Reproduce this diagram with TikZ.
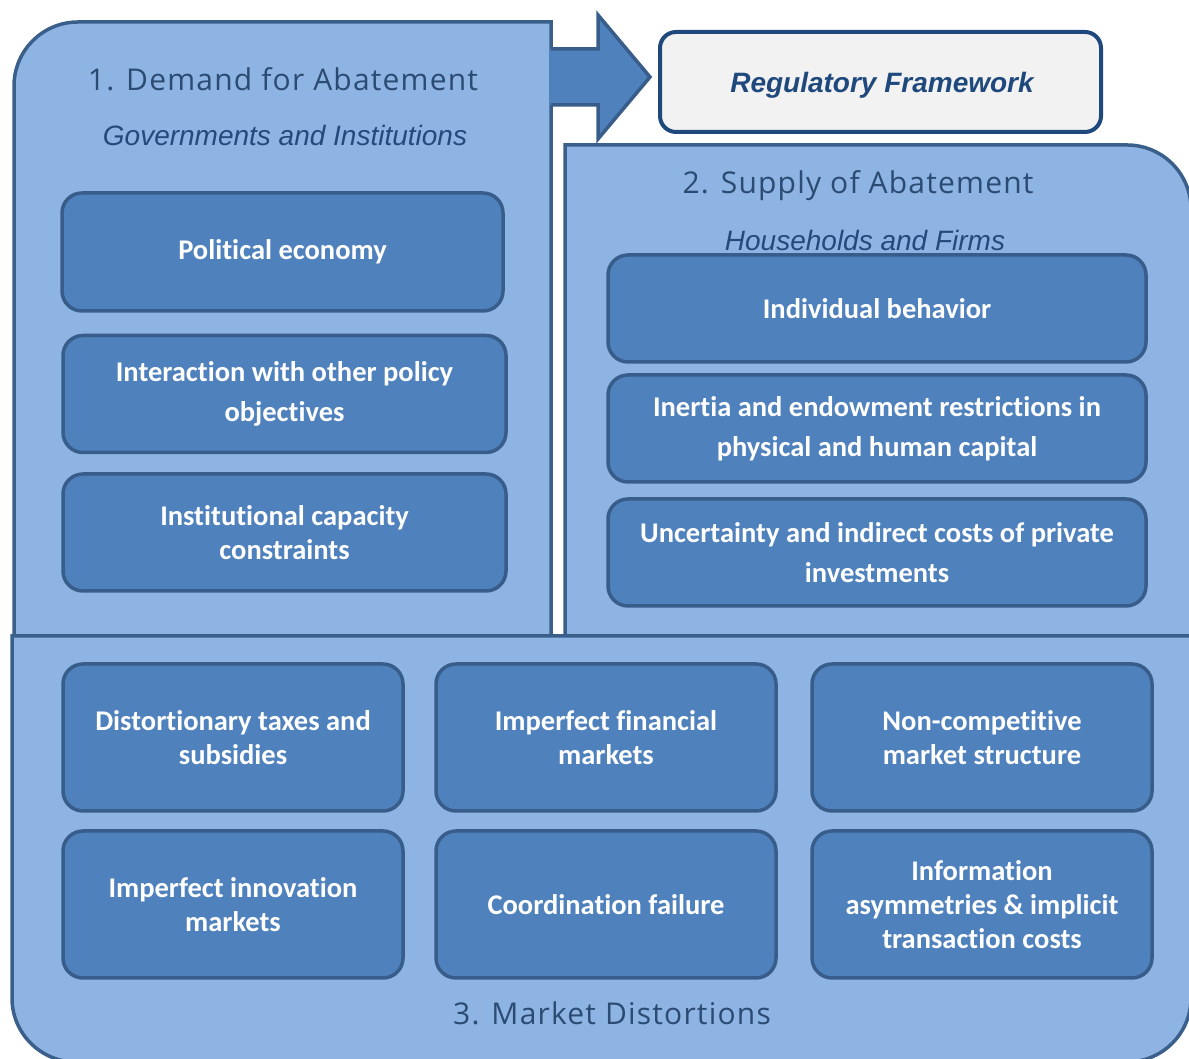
\documentclass[tikz,border=0pt]{standalone}
\usepackage{fontspec}
\setmainfont{Carlito}[Ligatures=NoCommon]
\newfontfamily\headfont{Open Sans}[LetterSpace=4]
\newfontfamily\subfont{Liberation Sans}
\definecolor{panelfill}{HTML}{8EB4E3}
\definecolor{panelline}{HTML}{3A5F8B}
\definecolor{boxfill}{HTML}{4F81BD}
\definecolor{boxline}{HTML}{385D8A}
\definecolor{headtext}{HTML}{2B4B73}
\definecolor{subtext}{HTML}{24497A}
\definecolor{regline}{HTML}{1F497D}
\definecolor{regfill}{HTML}{F2F2F2}
\begin{document}
\begin{tikzpicture}[x=1pt,y=1pt,
  panel/.style={fill=panelfill,draw=panelline,line width=3.5pt,line join=miter},
  item/.style={draw=boxline,fill=boxfill,line width=3.5pt,rounded corners=20pt,
    text=white,align=center,inner sep=0pt,font=\bfseries\fontsize{28.5}{34}\selectfont},
  wide/.style={font=\bfseries\fontsize{28.5}{40}\selectfont},
  heading/.style={text=headtext,font=\headfont\fontsize{30}{34}\selectfont,inner sep=0pt},
  subheading/.style={text=subtext,font=\subfont\itshape\fontsize{28}{32}\selectfont,inner sep=0pt},
]
\useasboundingbox (0,0) rectangle (1189,1059);

% panel 1: demand
\draw[panel] (14,359) -- (14,973) arc[start angle=180,end angle=90,radius=64]
  -- (551,1037) -- (551,359) -- cycle;
% panel 2: supply
\draw[panel] (565,359) -- (565,914) -- (1127,914) arc[start angle=90,end angle=0,radius=64]
  -- (1191,359) -- cycle;
% panel 3: market distortions
\draw[panel] (12,423) -- (1191,423) -- (1191,61) arc[start angle=0,end angle=-90,radius=64]
  -- (76,-3) arc[start angle=270,end angle=180,radius=64] -- cycle;

% block arrow towards the regulatory framework
\fill[boxfill] (549,1010) -- (598,1010) -- (598,1044) -- (650,982) -- (598,920) -- (598,954) -- (549,954) -- cycle;
\draw[boxline,line width=3.5pt,line join=miter] (551,1010) -- (598,1010) -- (598,1044) -- (650,982) -- (598,920) -- (598,954) -- (551,954);

\node[draw=regline,fill=regfill,line width=4pt,rounded corners=16pt,
  minimum width=441pt,minimum height=100pt,inner sep=0pt] (reg) at (880.5,977) {};
\node[text=regline,inner sep=0pt,
  font=\subfont\bfseries\itshape\fontsize{28}{32}\selectfont] (regtext) at (882,974) {Regulatory Framework};

% headings
\node[heading] (h1) at (283,980) {1. Demand for Abatement};
\node[subheading] (s1) at (285,923) {Governments and Institutions};
\node[heading] (h2) at (858,873) {2. Supply of Abatement};
\node[subheading] (s2) at (865,818) {Households and Firms};
\node[heading] (h3) at (612,46) {3. Market Distortions};

% demand items
\node[item,minimum width=441pt,minimum height=118pt] (pe) at (282.5,807) {Political economy};
\node[item,wide,minimum width=443pt,minimum height=117pt] (io) at (284.5,665) {Interaction with other policy\\objectives};
\node[item,minimum width=443pt,minimum height=117pt] (ic) at (284.5,526.5) {Institutional capacity\\constraints};

% supply items
\node[item,minimum width=538pt,minimum height=107pt] (ib) at (877,750.5) {Individual behavior};
\node[item,wide,minimum width=538pt,minimum height=107pt] (ie) at (877,630.5) {Inertia and endowment restrictions in\\physical and human capital};
\node[item,wide,minimum width=538pt,minimum height=107pt] (ui) at (877,506.5) {Uncertainty and indirect costs of private\\investments};

% market distortion items
\node[item,minimum width=340pt,minimum height=147pt] (dt) at (233,321.5) {Distortionary taxes and\\subsidies};
\node[item,minimum width=340pt,minimum height=147pt] (fm) at (606,321.5) {Imperfect financial\\markets};
\node[item,minimum width=340pt,minimum height=147pt] (nc) at (982,321.5) {Non-competitive\\market structure};
\node[item,minimum width=340pt,minimum height=147pt] (im) at (233,154.5) {Imperfect innovation\\markets};
\node[item,minimum width=340pt,minimum height=147pt] (cf) at (606,154.5) {Coordination failure};
\node[item,minimum width=340pt,minimum height=147pt] (ia) at (982,154.5) {Information\\asymmetries \& implicit\\transaction costs};
\end{tikzpicture}
\end{document}
